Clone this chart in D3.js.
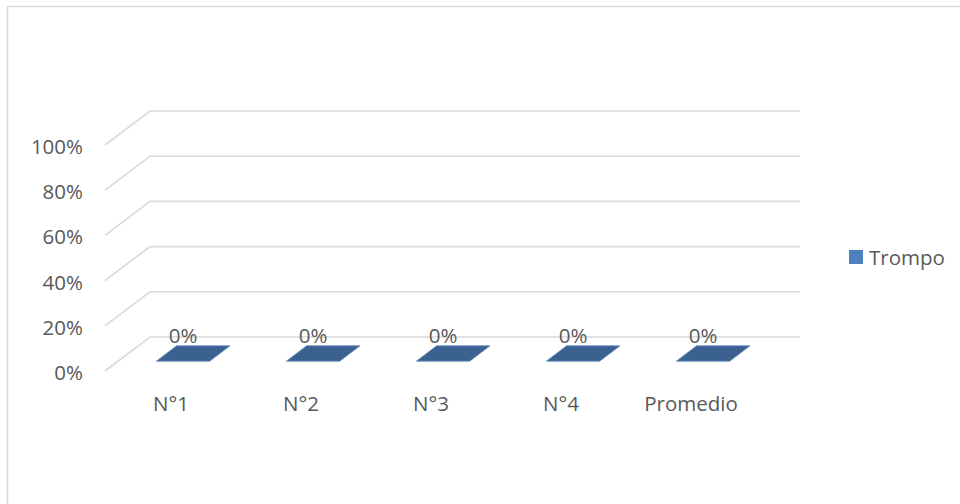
<!DOCTYPE html>
<html>
<head>
<meta charset="utf-8">
<script src="https://cdn.jsdelivr.net/npm/d3@7"></script>
<style>
  html, body { margin: 0; padding: 0; background: #fff; }
  svg { display: block; }
  text { font-family: "Open Sans", sans-serif; fill: #595959; }
</style>
</head>
<body>
<svg id="chart" width="960" height="504"></svg>
<script>
// Categories and the single series shown
const categories = ["N°1", "N°2", "N°3", "N°4", "Promedio"];
const seriesName = "Trompo";
const values = [0, 0, 0, 0, 0];
const tickValues = [0, 0.2, 0.4, 0.6, 0.8, 1.0];

const svg = d3.select("#chart");
const W = 960, H = 504;
const FS = 20.5;

// Chart frame
svg.append("rect")
  .attr("x", 7.5).attr("y", 6.5)
  .attr("width", W + 20).attr("height", H + 20)
  .attr("fill", "#fff")
  .attr("stroke", "#d9d9d9").attr("stroke-width", 1.5);

// 3D projection: front plane plus depth offset toward the back wall
const depthX = 45, depthY = -34;
const x = d3.scaleBand().domain(categories).range([105, 755]);
const y = d3.scaleLinear().domain([0, 1]).range([371, 145]);

const grid = svg.append("g").attr("fill", "none")
  .attr("stroke", "#d9d9d9").attr("stroke-width", 1.6);

// Back-wall gridlines and the side-wall diagonals
tickValues.forEach(t => {
  const fy = y(t);
  grid.append("path")
    .attr("d", d3.line()([
      [x.range()[0], fy],
      [x.range()[0] + depthX, fy + depthY],
      [x.range()[1] + depthX, fy + depthY]
    ]));
});

// Value axis labels
const yAxis = d3.axisLeft(y)
  .tickValues(tickValues)
  .tickFormat(d3.format(".0%"))
  .tickSize(0)
  .tickPadding(0);
const yg = svg.append("g")
  .attr("transform", "translate(83,2)")
  .call(yAxis);
yg.select(".domain").remove();
yg.selectAll("text")
  .attr("font-family", "Open Sans, sans-serif")
  .attr("font-size", FS)
  .attr("fill", "#595959");

// Bars as boxes sitting in the middle of the floor depth
const t0 = 0.29, t1 = 0.74;
const barW = x.bandwidth() * 0.41;
const pt = (px, py, t) => [px + depthX * t, py + depthY * t];

const bars = svg.append("g");
categories.forEach((c, i) => {
  const cx = x(c) + x.bandwidth() / 2;
  const xl = cx - barW / 2, xr = cx + barW / 2;
  const yb = y(0), yt = y(values[i]);
  const h = yb - yt;
  if (h > 0) {
    // front face
    bars.append("path").attr("fill", "#4f81bd")
      .attr("d", d3.line()([pt(xl, yt, t0), pt(xr, yt, t0), pt(xr, yb, t0), pt(xl, yb, t0)]) + "Z");
    // side face
    bars.append("path").attr("fill", "#3c6491")
      .attr("d", d3.line()([pt(xr, yt, t0), pt(xr, yt, t1), pt(xr, yb, t1), pt(xr, yb, t0)]) + "Z");
  }
  // top face
  bars.append("path")
    .attr("fill", "#3b6190")
    .attr("stroke", "#5b86bb").attr("stroke-width", 0.8)
    .attr("d", d3.line()([pt(xl, yt, t0), pt(xr, yt, t0), pt(xr, yt, t1), pt(xl, yt, t1)]) + "Z");

  // data label
  const lp = pt(cx, yt, t1);
  svg.append("text")
    .attr("x", cx + 13)
    .attr("y", lp[1] - 11)
    .attr("text-anchor", "middle")
    .attr("dominant-baseline", "central")
    .attr("font-size", FS)
    .text(d3.format(".0%")(values[i]));
});

// Category labels
svg.append("g").selectAll("text")
  .data(categories)
  .join("text")
  .attr("x", d => x(d) + x.bandwidth() / 2 + 1)
  .attr("y", 403)
  .attr("text-anchor", "middle")
  .attr("dominant-baseline", "central")
  .attr("font-size", FS)
  .text(d => d);

// Legend
const lg = svg.append("g").attr("transform", "translate(849,250)");
lg.append("rect").attr("width", 14).attr("height", 14).attr("fill", "#4f81bd");
lg.append("text").attr("x", 20).attr("y", 7)
  .attr("dominant-baseline", "central")
  .attr("font-size", FS)
  .text(seriesName);
</script>
</body>
</html>
